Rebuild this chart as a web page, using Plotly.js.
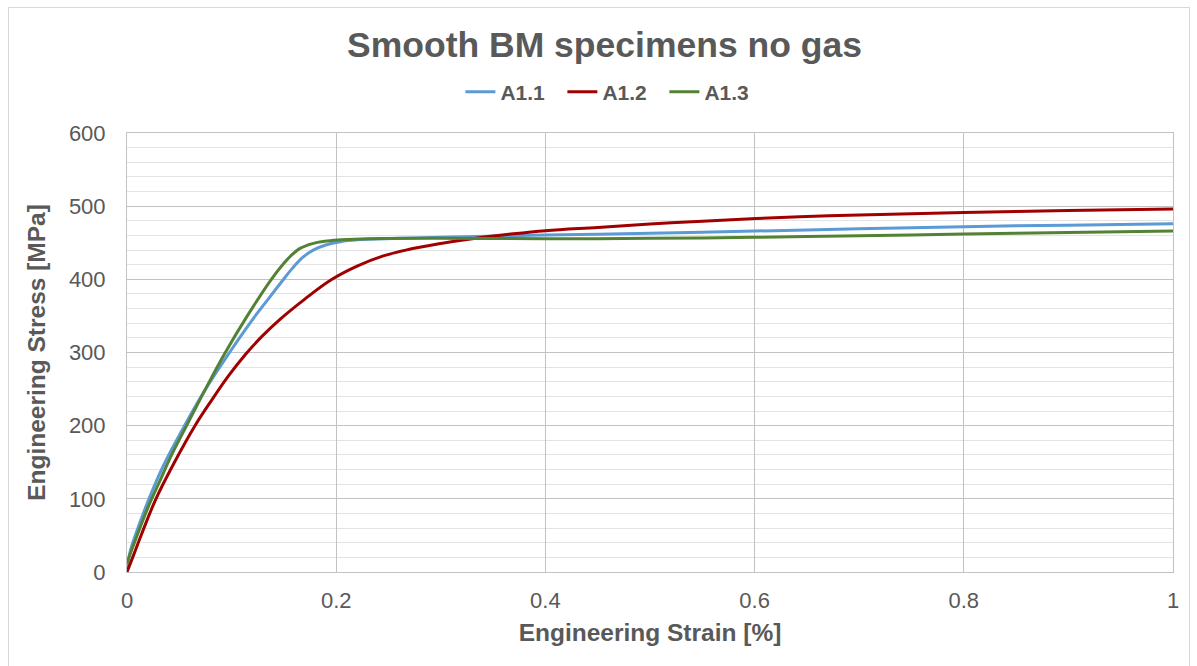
<!DOCTYPE html>
<html>
<head>
<meta charset="utf-8">
<script src="https://cdn.plot.ly/plotly-3.0.1.min.js"></script>
<style>
  html, body { margin: 0; padding: 0; background: #fff; }
  #wrap { position: relative; width: 1197px; height: 666px; overflow: hidden; }
  #chart { position: absolute; left: 0; top: 0; width: 1197px; height: 666px; }
  #border { position: absolute; left: 8px; top: 7px; width: 1180px; height: 680px;
            border: 1px solid #d9d9d9; pointer-events: none; }
</style>
</head>
<body>
<div id="wrap">
  <div id="chart"></div>
  <div id="border"></div>
</div>
<script>
// Engineering strain [%] and engineering stress [MPa]
const strainA11 = [0, 0.003, 0.007, 0.013, 0.021, 0.035, 0.055, 0.076, 0.098, 0.120, 0.135, 0.148, 0.158, 0.168, 0.178, 0.190, 0.204, 0.220, 0.260, 0.300, 0.400, 0.500, 0.600, 0.700, 0.800, 0.900, 1.000];
const stressA11 = [6, 28, 46, 70, 100, 146, 200, 252, 300, 345, 373, 397, 415, 430, 440, 447, 451.5, 454, 456, 457.5, 460.5, 463, 466, 469, 472, 474, 476];

const strainA12 = [0, 0.006, 0.014, 0.0277, 0.045, 0.065, 0.081, 0.097, 0.113, 0.129, 0.146, 0.170, 0.196, 0.220, 0.245, 0.270, 0.300, 0.330, 0.365, 0.400, 0.450, 0.500, 0.550, 0.643, 0.700, 0.800, 0.900, 1.000];
const stressA12 = [0, 22, 52, 100, 149, 200, 235, 268, 297, 322, 345, 373, 400, 418, 432, 441, 449, 455.5, 461.5, 466.5, 471, 475.5, 479.5, 485.5, 488, 491.5, 494, 496];

const strainA13 = [0, 0.005, 0.011, 0.020, 0.030, 0.043, 0.057, 0.075, 0.094, 0.115, 0.138, 0.150, 0.158, 0.165, 0.173, 0.182, 0.192, 0.205, 0.230, 0.300, 0.400, 0.500, 0.600, 0.700, 0.800, 0.900, 1.000];
const stressA13 = [12, 32, 55, 88, 120, 161, 200, 250, 300, 350, 400, 422, 434, 442, 447, 450.5, 452.5, 454, 455.5, 456, 455.5, 456, 457.5, 459.5, 462, 464, 466];

const seriesNames = ["A1.1", "A1.2", "A1.3"];
const seriesColors = ["#5B9BD5", "#A00000", "#548235"];

const xTickVals = [0, 0.2, 0.4, 0.6, 0.8, 1];
const xTickText = ["0", "0.2", "0.4", "0.6", "0.8", "1"];
const yTickVals = [0, 100, 200, 300, 400, 500, 600];

const FONT = "Arial, 'Liberation Sans', sans-serif";
const GREY = "#595959";

const xs = [strainA11, strainA12, strainA13];
const ys = [stressA11, stressA12, stressA13];

const traces = seriesNames.map((n, i) => ({
  type: "scatter",
  mode: "lines",
  name: n,
  x: xs[i],
  y: ys[i],
  line: { color: seriesColors[i], width: 3, shape: "spline", smoothing: 1.1 },
  hoverinfo: "x+y+name"
}));

const layout = {
  width: 1197,
  height: 666,
  margin: { l: 127, r: 24, t: 133, b: 94 },
  paper_bgcolor: "#ffffff",
  plot_bgcolor: "#ffffff",
  font: { family: FONT, color: GREY },
  title: {
    text: "<b>Smooth BM specimens no gas</b>",
    font: { family: FONT, size: 35.5, color: GREY },
    x: 0.505, xref: "container", xanchor: "center",
    y: 1 - 45 / 666, yref: "container", yanchor: "middle"
  },
  showlegend: true,
  legend: {
    orientation: "h",
    x: 0.465, xanchor: "center",
    y: 1.093, yanchor: "middle",
    font: { family: FONT, size: 21, color: GREY, weight: "bold" },
    entrywidth: 57,
    entrywidthmode: "pixels",
    bgcolor: "rgba(0,0,0,0)"
  },
  xaxis: {
    range: [0, 1],
    tickvals: xTickVals,
    ticktext: xTickText,
    showgrid: true,
    gridcolor: "#c2c2c2",
    gridwidth: 1,
    zeroline: false,
    showline: true,
    linecolor: "#c2c2c2",
    mirror: true,
    ticks: "",
    ticklabelstandoff: 9,
    tickfont: { family: FONT, size: 22, color: GREY },
    title: {
      text: "<b>Engineering Strain [%]</b>",
      font: { family: FONT, size: 24.5, color: GREY },
      standoff: 11
    }
  },
  yaxis: {
    range: [0, 600],
    tickvals: yTickVals,
    showgrid: true,
    gridcolor: "#c2c2c2",
    gridwidth: 1,
    minor: { dtick: 20, showgrid: true, gridcolor: "#e3e3e3", gridwidth: 1, ticks: "" },
    zeroline: false,
    showline: true,
    linecolor: "#c2c2c2",
    mirror: true,
    ticks: "",
    ticklabelstandoff: 16,
    tickfont: { family: FONT, size: 22, color: GREY },
    title: {
      text: "<b>Engineering Stress [MPa]</b>",
      font: { family: FONT, size: 24.5, color: GREY },
      standoff: 16
    }
  }
};

Plotly.newPlot("chart", traces, layout, { displayModeBar: false, staticPlot: false, responsive: false });
</script>
</body>
</html>
